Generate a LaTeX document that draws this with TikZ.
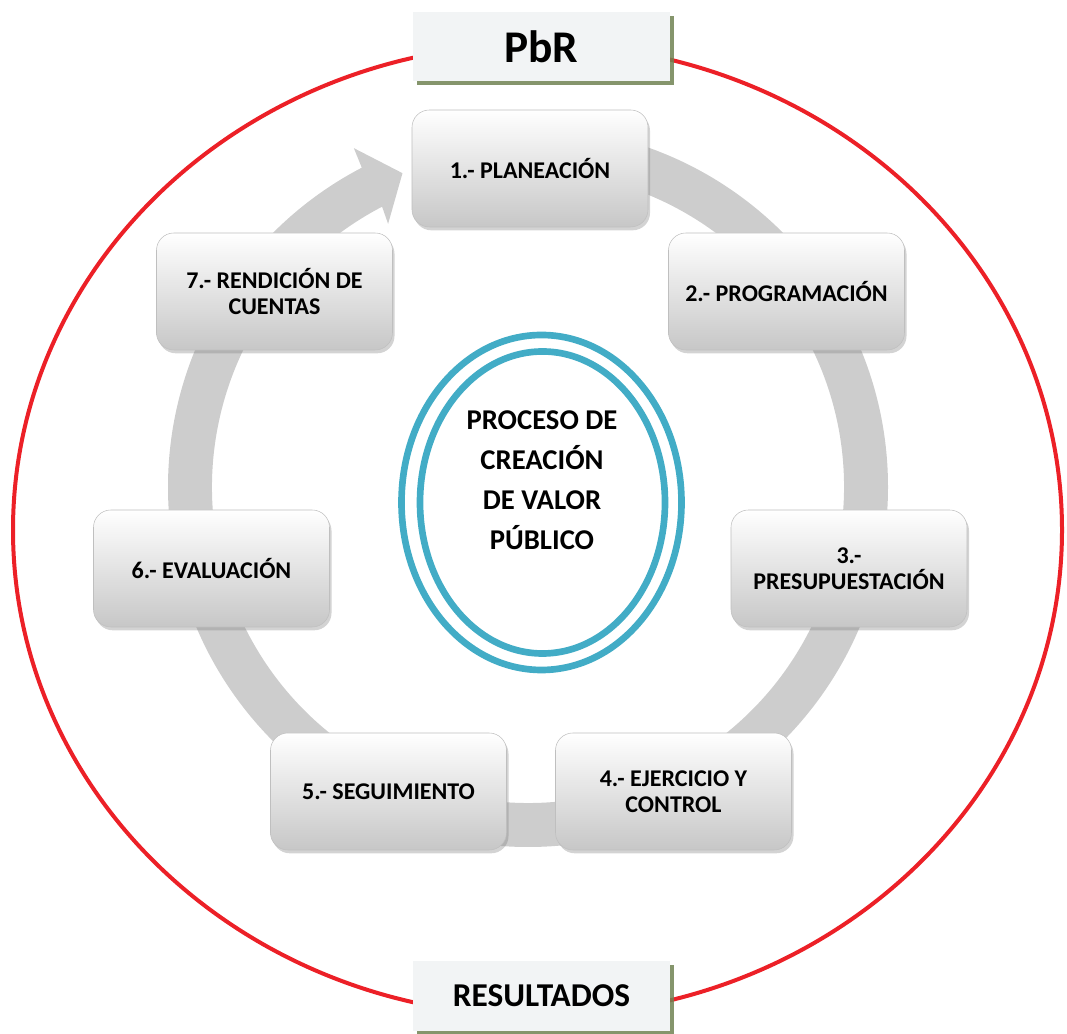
\documentclass[tikz,border=0pt]{standalone}
\usepackage{fontspec}
\setmainfont{Carlito}
\usetikzlibrary{shadows}
\definecolor{rojo}{RGB}{236,32,39}
\definecolor{gris}{RGB}{205,205,205}
\definecolor{azul}{RGB}{66,172,198}
\definecolor{fondo}{RGB}{242,244,245}
\definecolor{oliva}{RGB}{112,130,82}

\begin{document}
\begin{tikzpicture}[x=0.75pt, y=0.75pt,
  paso/.style={rounded corners=13pt, top color=white, bottom color=black!22, draw=black!25,
    minimum width=177pt, minimum height=87.75pt, align=center,
    font=\fontsize{18}{19.5}\selectfont\bfseries,
    drop shadow={shadow xshift=1.5pt, shadow yshift=-2.5pt, opacity=0.35}},
  titulo/.style={fill=fondo, minimum width=192.75pt, minimum height=52pt,
    drop shadow={shadow xshift=3pt, shadow yshift=-3pt, fill=oliva, opacity=0.85}}]
  \useasboundingbox (0,0) rectangle (1067,1034);

  % marco rojo
  \draw[rojo, line width=3pt] (537.5,504) ellipse [x radius=524.5, y radius=486];

  % flecha circular gris
  \begin{scope}[shift={(528,547)}]
    \fill[gris] (90:360) arc [start angle=90, end angle=-242.5, radius=360]
      -- (117.2:381) -- (111.8:338) -- (118:298) -- (117.5:316)
      arc [start angle=-242.5, end angle=90, radius=316] -- cycle;
  \end{scope}

  % elipse central
  \draw[azul, line width=5pt] (541.5,531.5) ellipse [x radius=140, y radius=167.5];
  \draw[azul, line width=5pt] (542.5,531.5) ellipse [x radius=122.5, y radius=151];
  \node[align=center, font=\fontsize{21.5}{30}\selectfont\bfseries] (centro) at (542,554)
    {PROCESO DE\\CREACIÓN\\DE VALOR\\PÚBLICO};

  % pasos
  \node[paso] (plan) at (530,865.5) {1.- PLANEACIÓN};
  \node[paso] (prog) at (786.5,742.5) {2.- PROGRAMACIÓN};
  \node[paso] (presup) at (849,465.5) {3.-\\PRESUPUESTACIÓN};
  \node[paso] (ejerc) at (673.5,242.5) {4.- EJERCICIO Y\\CONTROL};
  \node[paso] (segui) at (388.5,242.5) {5.- SEGUIMIENTO};
  \node[paso] (evalu) at (211.5,465.5) {6.- EVALUACIÓN};
  \node[paso] (rendic) at (274.5,742.5) {7.- RENDICIÓN DE\\CUENTAS};

  % titulos
  \node[titulo, font=\fontsize{34}{40}\selectfont\bfseries] (pbr) at (541.5,987.5) {PbR};
  \node[titulo, font=\fontsize{25}{30}\selectfont\bfseries] (result) at (541.5,38) {RESULTADOS};
\end{tikzpicture}
\end{document}
